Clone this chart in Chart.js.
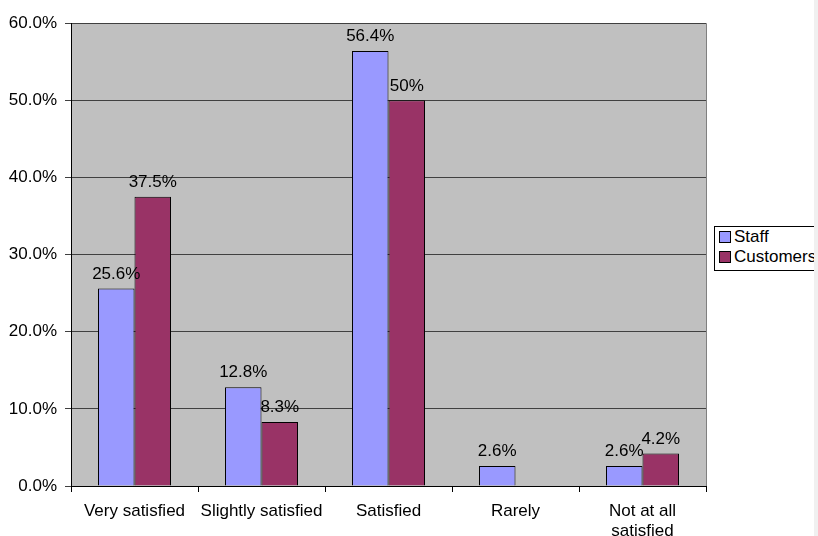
<!DOCTYPE html>
<html>
<head>
<meta charset="utf-8">
<script src="https://cdn.jsdelivr.net/npm/chart.js@4"></script>
<style>
    html, body { margin: 0; padding: 0; background: #fff; overflow: hidden; }
    #wrap { position: relative; width: 818px; height: 536px; }
    #chart { position: absolute; left: 0; top: 5px; }
    #legend {
        position: absolute; left: 714px; top: 226px; width: 120px; height: 43px;
        border: 1px solid #000; background: #fff;
        font: 17px 'Liberation Sans', Arial, sans-serif; color: #000;
    }
    #legend div { height: 20px; line-height: 20px; padding-left: 4px; white-space: nowrap; }
    #legend span { display: inline-block; width: 10px; height: 10px; border: 1px solid #000; margin-right: 3px; vertical-align: -1px; }
    #strip { position: absolute; left: 814px; top: 0; width: 4px; height: 536px; background: #f0f0f0; }
</style>
</head>
<body>
<div id="wrap">
    <canvas id="chart" width="818" height="531"></canvas>
    <div id="legend"></div>
    <div id="strip"></div>
</div>
<script>
const categories = ['Very satisfied', 'Slightly satisfied', 'Satisfied', 'Rarely', ['Not at all', 'satisfied']];
const staffValues = [25.6, 12.8, 56.4, 2.6, 2.6];
const customerValues = [37.5, 8.3, 50, 0, 4.2];
const seriesNames = ['Staff', 'Customers'];
const seriesColors = ['#9999FF', '#993366'];

const fontFamily = "'Liberation Sans', Arial, sans-serif";

// gray plot background and right border
const plotBackground = {
    id: 'plotBackground',
    beforeDraw(chart) {
        const { ctx, chartArea: a } = chart;
        ctx.save();
        ctx.fillStyle = '#C0C0C0';
        ctx.fillRect(a.left, a.top, a.right - a.left, a.bottom - a.top);
        ctx.strokeStyle = '#808080';
        ctx.lineWidth = 1;
        ctx.beginPath();
        ctx.moveTo(Math.round(a.right) + 0.5, a.top);
        ctx.lineTo(Math.round(a.right) + 0.5, a.bottom);
        ctx.stroke();
        ctx.restore();
    }
};

// value labels above bars
const valueLabels = {
    id: 'valueLabels',
    afterDatasetsDraw(chart) {
        const ctx = chart.ctx;
        ctx.save();
        ctx.font = '17px ' + fontFamily;
        ctx.fillStyle = '#000';
        ctx.textAlign = 'center';
        ctx.textBaseline = 'bottom';
        chart.data.datasets.forEach((ds, i) => {
            chart.getDatasetMeta(i).data.forEach((bar, j) => {
                const v = ds.data[j];
                if (!v) return;
                ctx.fillText(v + '%', bar.x, bar.y - 6);
            });
        });
        ctx.restore();
    }
};

const ctx = document.getElementById('chart').getContext('2d');
new Chart(ctx, {
    type: 'bar',
    data: {
        labels: categories,
        datasets: [
            { label: seriesNames[0], data: staffValues, backgroundColor: seriesColors[0], borderColor: '#000', borderWidth: 1 },
            { label: seriesNames[1], data: customerValues, backgroundColor: seriesColors[1], borderColor: '#000', borderWidth: 1 }
        ]
    },
    options: {
        responsive: false,
        animation: false,
        layout: { padding: { top: 13, right: 112, left: 0, bottom: 0 } },
        datasets: { bar: { barPercentage: 1.0, categoryPercentage: 0.575 } },
        plugins: {
            legend: { display: false },
            tooltip: { enabled: false }
        },
        scales: {
            x: {
                grid: { offset: true, drawOnChartArea: false, drawTicks: true, tickLength: 6, color: '#000' },
                border: { display: true, color: '#000' },
                ticks: { color: '#000', font: { family: fontFamily, size: 17 }, padding: 9, maxRotation: 0 },
                afterFit(scale) { scale.height = 50; }
            },
            y: {
                min: 0,
                max: 60,
                ticks: {
                    stepSize: 10,
                    color: '#000',
                    padding: 8,
                    font: { family: fontFamily, size: 17 },
                    callback: v => v.toFixed(1) + '%'
                },
                grid: { color: '#404040', tickLength: 6 },
                border: { display: true, color: '#000' },
                afterFit(scale) { scale.width = 71; }
            }
        }
    },
    plugins: [plotBackground, valueLabels]
});

const legend = document.getElementById('legend');
seriesNames.forEach((name, i) => {
    const row = document.createElement('div');
    row.innerHTML = '<span style="background:' + seriesColors[i] + '"></span>' + name;
    legend.appendChild(row);
});
</script>
</body>
</html>
